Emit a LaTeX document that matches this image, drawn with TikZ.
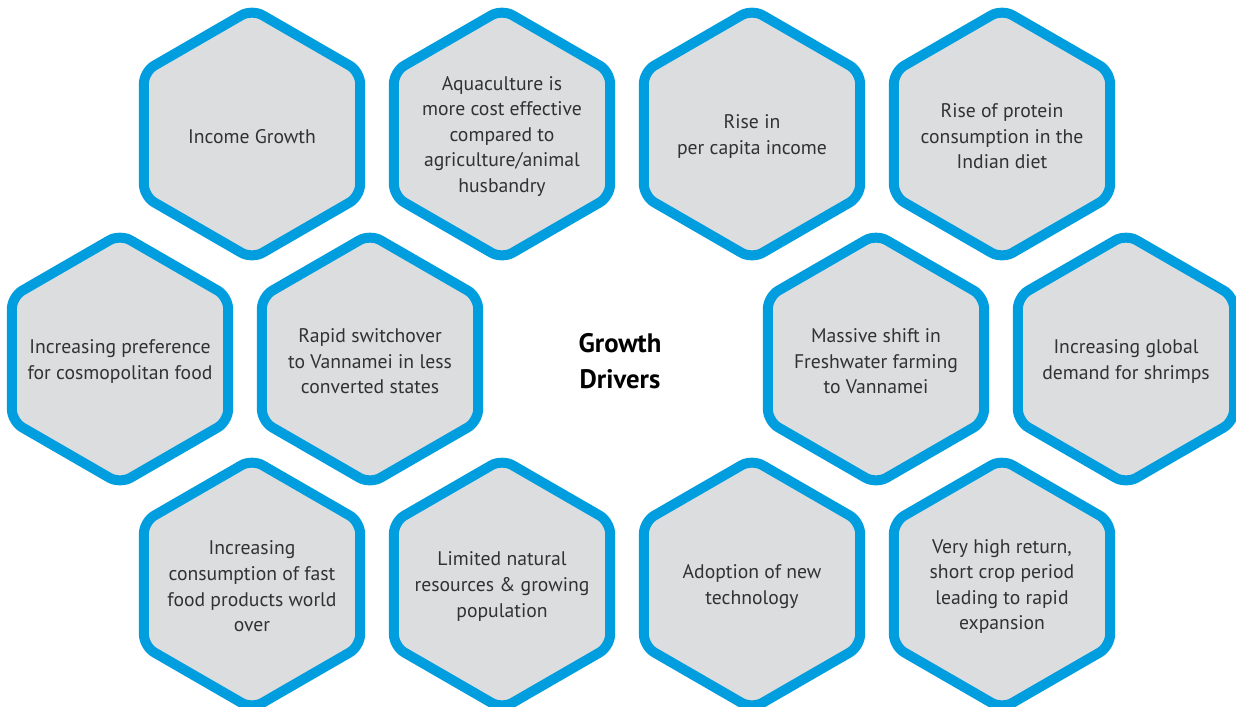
\documentclass[tikz,border=0pt]{standalone}
\usepackage{fontspec}
\setmainfont{PT Sans}
\usetikzlibrary{shapes.geometric}
\definecolor{hexblue}{RGB}{0,158,222}
\definecolor{hexgray}{RGB}{220,221,223}
\definecolor{txtgray}{RGB}{50,50,52}

\begin{document}
\begin{tikzpicture}[x=0.025cm, y=-0.025cm,
  hexa/.style={regular polygon, regular polygon sides=6, shape border rotate=90,
    minimum size=6.24cm, inner sep=0pt, draw=hexblue, fill=hexgray,
    line width=0.25cm, rounded corners=0.3cm},
  txt/.style={align=center, text=txtgray, font=\fontsize{14}{18.2}\selectfont}]
\useasboundingbox (0, 0) rectangle (1236, 706);
\node[hexa] (inc) at (252, 134) {};
\node[hexa] (aqua) at (502, 134) {};
\node[hexa] (rise) at (752, 134) {};
\node[hexa] (prot) at (1002, 134) {};
\node[hexa] (pref) at (120, 359) {};
\node[hexa] (swit) at (370, 359) {};
\node[hexa] (fresh) at (876, 359) {};
\node[hexa] (glob) at (1126, 359) {};
\node[hexa] (fast) at (252, 584) {};
\node[hexa] (res) at (502, 584) {};
\node[hexa] (tech) at (752, 584) {};
\node[hexa] (ret) at (1002, 584) {};
\node[txt] (tinc) at ([yshift=-0.06cm]inc) {Income Growth};
\node[txt] (taqua) at ([yshift=-0.06cm]aqua) {Aquaculture is\\ more cost effective\\ compared to\\ agriculture/animal\\ husbandry};
\node[txt] (trise) at ([yshift=-0.06cm]rise) {Rise in\\ per capita income};
\node[txt] (tprot) at ([yshift=-0.06cm]prot) {Rise of protein\\ consumption in the\\ Indian diet};
\node[txt] (tpref) at ([yshift=-0.06cm]pref) {Increasing preference\\ for cosmopolitan food};
\node[txt] (tswit) at ([yshift=-0.06cm]swit) {Rapid switchover\\ to Vannamei in less\\ converted states};
\node[txt] (tfresh) at ([yshift=-0.06cm]fresh) {Massive shift in\\ Freshwater farming\\ to Vannamei};
\node[txt] (tglob) at ([yshift=-0.06cm]glob) {Increasing global\\ demand for shrimps};
\node[txt] (tfast) at ([yshift=-0.06cm]fast) {Increasing\\ consumption of fast\\ food products world\\ over};
\node[txt] (tres) at ([yshift=-0.06cm]res) {Limited natural\\ resources \& growing\\ population};
\node[txt] (ttech) at ([yshift=-0.06cm]tech) {Adoption of new\\ technology};
\node[txt] (tret) at ([yshift=-0.06cm]ret) {Very high return,\\ short crop period\\ leading to rapid\\ expansion};
\node[align=center, font=\fontsize{19}{25.6}\selectfont\bfseries] (title) at (620, 361) {Growth\\ Drivers};
\end{tikzpicture}
\end{document}
